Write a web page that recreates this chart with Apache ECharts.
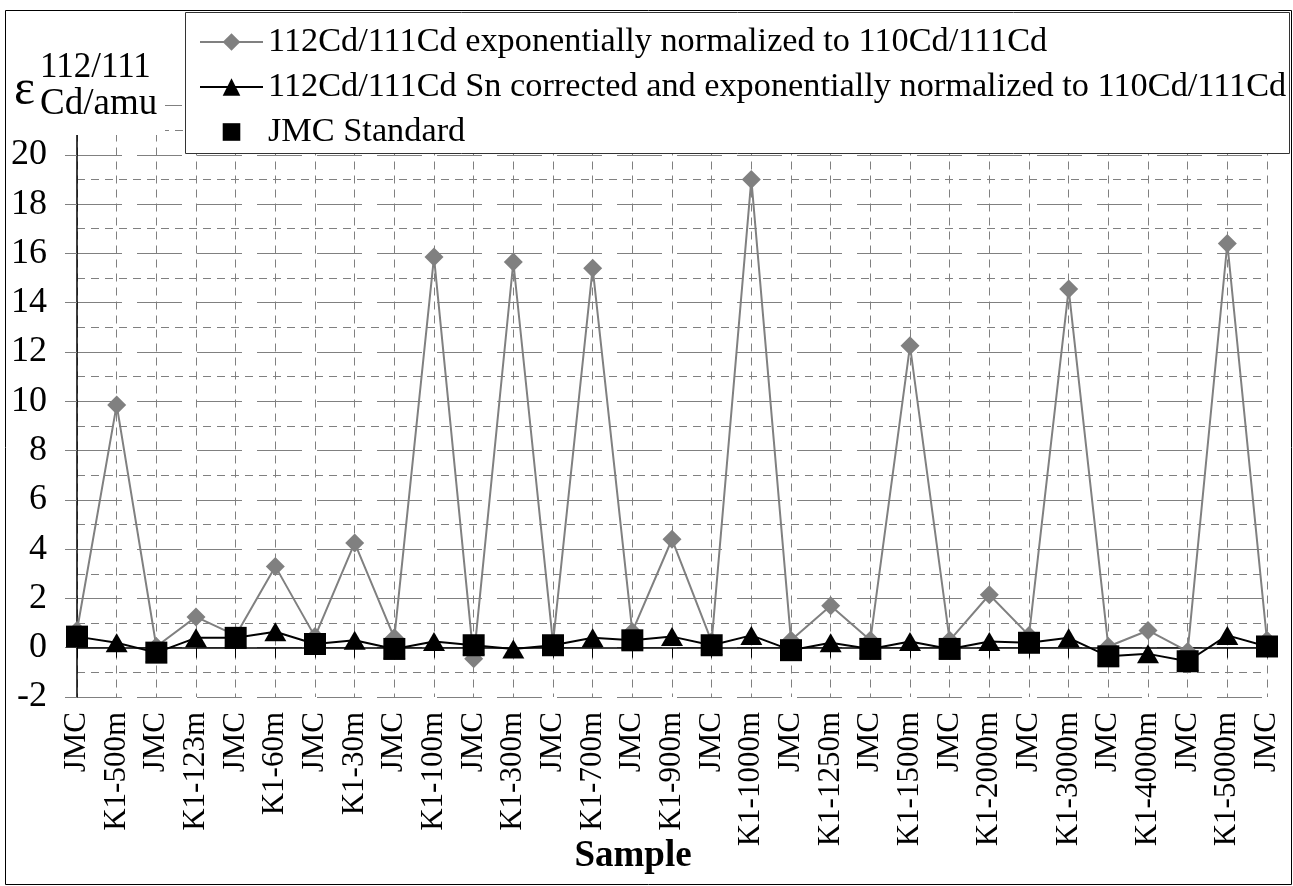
<!DOCTYPE html>
<html>
<head>
<meta charset="utf-8">
<script src="https://cdn.jsdelivr.net/npm/echarts@6/dist/echarts.min.js"></script>
<style>
  html, body { margin: 0; padding: 0; background: #fff; }
  #chart { width: 1293px; height: 886px; }
</style>
</head>
<body>
<div id="chart"></div>
<script>
  // 样品名称
  const categories = ['JMC', 'K1-500m', 'JMC', 'K1-123m', 'JMC', 'K1-60m', 'JMC', 'K1-30m', 'JMC', 'K1-100m',
    'JMC', 'K1-300m', 'JMC', 'K1-700m', 'JMC', 'K1-900m', 'JMC', 'K1-1000m', 'JMC', 'K1-1250m',
    'JMC', 'K1-1500m', 'JMC', 'K1-2000m', 'JMC', 'K1-3000m', 'JMC', 'K1-4000m', 'JMC', 'K1-5000m', 'JMC'];
  // 112Cd/111Cd exponentially normalized
  const expNorm = [0.7, 9.85, 0.05, 1.25, 0.5, 3.3, 0.45, 4.25, 0.4, 15.85,
    -0.45, 15.65, 0.2, 15.4, 0.65, 4.4, 0.25, 19.0, 0.3, 1.7,
    0.3, 12.25, 0.3, 2.15, 0.5, 14.55, 0.05, 0.7, -0.15, 16.4, 0.3];
  // Sn corrected
  const snCorr = [0.45, 0.2, -0.2, 0.4, 0.4, 0.65, 0.15, 0.3, -0.05, 0.25,
    0.1, -0.05, 0.1, 0.4, 0.3, 0.45, 0.1, 0.5, -0.1, 0.2,
    -0.05, 0.25, -0.05, 0.25, 0.2, 0.4, -0.35, -0.25, -0.55, 0.5, 0.05];
  // JMC Standard
  const jmcStd = [0.45, null, -0.2, null, 0.4, null, 0.15, null, -0.05, null,
    0.1, null, 0.1, null, 0.3, null, 0.1, null, -0.1, null,
    -0.05, null, -0.05, null, 0.2, null, -0.35, null, -0.55, null, 0.05];
  const yTicks = [-2, 0, 2, 4, 6, 8, 10, 12, 14, 16, 18, 20];

  const font = 'Liberation Serif';
  const grey = '#808080';
  const names = [
    '112Cd/111Cd exponentially normalized to 110Cd/111Cd',
    '112Cd/111Cd Sn corrected and exponentially normalized to 110Cd/111Cd',
    'JMC Standard'
  ];

  const myEcharts = echarts.init(document.getElementById('chart'));
  const option = {
    backgroundColor: '#fff',
    animation: false,
    grid: { left: 77, right: 26, top: 105.5, bottom: 189, containLabel: false, outerBoundsMode: 'none' },
    legend: {
      orient: 'vertical',
      left: 199,
      top: 24,
      padding: 0,
      itemGap: 9,
      itemWidth: 63,
      itemHeight: 22,
      z: 110,
      selectedMode: false,
      textStyle: { fontFamily: font, fontSize: 34.3, color: '#000', lineHeight: 36 },
      data: names
    },
    xAxis: {
      type: 'category',
      data: categories,
      boundaryGap: false,
      axisLine: { lineStyle: { color: '#000', width: 1.5 } },
      axisTick: { interval: 0, length: 10, lineStyle: { color: '#000' } },
      axisLabel: {
        interval: 0, rotate: 90, margin: 15,
        fontFamily: font, fontSize: 31, color: '#000'
      },
      splitLine: { show: true, interval: 0, lineStyle: { color: grey, type: [8, 6], width: 1 } },
      name: 'Sample',
      nameLocation: 'middle',
      nameGap: 141,
      nameMoveOverlap: false,
      nameTextStyle: {
        fontFamily: font, fontSize: 37, fontWeight: 'bold', color: '#000',
        padding: [0, 78, 0, 0]
      }
    },
    yAxis: {
      type: 'value',
      min: -2,
      max: 22,
      interval: 2,
      axisLine: { show: true, lineStyle: { color: '#000', width: 1.5 } },
      axisTick: { show: true, length: 12, lineStyle: { color: grey } },
      axisLabel: {
        margin: 30, fontFamily: font, fontSize: 36, color: '#000',
        formatter: v => (yTicks.indexOf(v) >= 0 ? String(v) : '')
      },
      splitLine: { show: true, lineStyle: { color: grey, type: [45, 15], width: 1.2 } },
      minorTick: { show: false, splitNumber: 2 },
      minorSplitLine: { show: true, lineStyle: { color: grey, type: [8, 6], width: 1 } }
    },
    graphic: [
      // 外框
      { type: 'rect', z: 100, silent: true,
        shape: { x: 5.5, y: 10.5, width: 1286, height: 874 },
        style: { fill: null, stroke: '#000', lineWidth: 1 } },
      // y轴标题背景
      { type: 'rect', z: 100, silent: true,
        shape: { x: 6, y: 11, width: 159, height: 124 },
        style: { fill: '#fff' } },
      // 图例框
      { type: 'rect', z: 100, silent: true,
        shape: { x: 185.5, y: 12.5, width: 1104, height: 141 },
        style: { fill: '#fff', stroke: '#333', lineWidth: 1 } },
      { type: 'text', z: 101, silent: true, left: 14, top: 66,
        style: { text: 'ε', fontFamily: font, fontSize: 50, fill: '#000' } },
      { type: 'text', z: 101, silent: true, left: 40, top: 50,
        style: { text: '112/111', fontFamily: font, fontSize: 35, fill: '#000' } },
      { type: 'text', z: 101, silent: true, left: 40, top: 86,
        style: { text: 'Cd/amu', fontFamily: font, fontSize: 37, fill: '#000' } }
    ],
    series: [
      {
        name: names[0],
        type: 'line',
        data: expNorm,
        symbol: 'diamond',
        symbolSize: 19,
        z: 3,
        lineStyle: { color: grey, width: 2 },
        itemStyle: { color: grey }
      },
      {
        name: names[1],
        type: 'line',
        data: snCorr,
        symbol: 'triangle',
        symbolSize: [22, 19],
        z: 4,
        lineStyle: { color: '#000', width: 2 },
        itemStyle: { color: '#000' }
      },
      {
        name: names[2],
        type: 'line',
        data: jmcStd,
        symbol: 'rect',
        symbolSize: 22,
        z: 5,
        connectNulls: false,
        lineStyle: { width: 0, opacity: 0 },
        itemStyle: { color: '#000' }
      }
    ]
  };
  myEcharts.setOption(option);
</script>
</body>
</html>
